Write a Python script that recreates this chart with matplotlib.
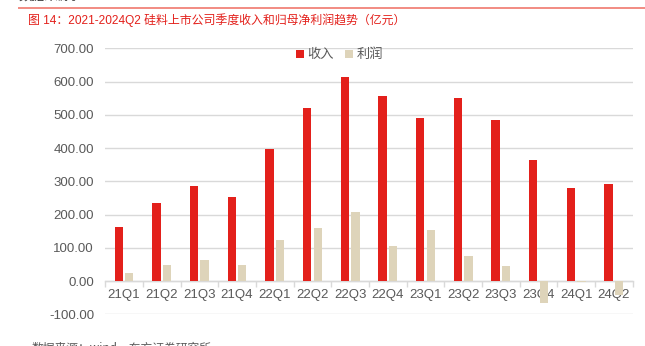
import matplotlib
matplotlib.use("Agg")
import matplotlib.pyplot as plt
import numpy as np
from matplotlib.ticker import FixedLocator, FuncFormatter

plt.rcParams['font.family'] = ['Liberation Sans', 'Noto Sans CJK SC', 'DejaVu Sans']

quarters = ["21Q1", "21Q2", "21Q3", "21Q4", "22Q1", "22Q2", "22Q3",
            "22Q4", "23Q1", "23Q2", "23Q3", "23Q4", "24Q1", "24Q2"]
revenue = [162, 234, 287, 252, 397, 520, 613, 557, 491, 550, 484, 363, 280, 292]
profit = [24, 49, 64, 49, 124, 160, 208, 107, 155, 75, 45, -66, -4, -42]
yticks = [-100, 0, 100, 200, 300, 400, 500, 600, 700]

RED = '#E3201B'
TAN = '#DED4BA'
GRAY = '#595959'
GRID = '#D9D9D9'

fig = plt.figure(figsize=(6.45, 3.46), dpi=100)
ax = fig.add_axes([0.163, 0.0916, 0.818, 0.7684])

x = np.arange(len(quarters))
w = 0.22
ax.bar(x - 0.14, revenue, width=w, color=RED, label='收入', zorder=2)
ax.bar(x + 0.14, profit, width=w, color=TAN, label='利润', zorder=2)

ax.set_xlim(-0.5, len(quarters) - 0.5)
ax.set_ylim(-100, 700)
ax.set_yticks(yticks)
ax.yaxis.set_major_formatter(FuncFormatter(lambda v, p: f"{v:.2f}"))
ax.grid(axis='y', color=GRID, linewidth=1.0, zorder=0)
ax.set_axisbelow(True)

for s in ['left', 'right', 'top']:
    ax.spines[s].set_visible(False)
ax.spines['bottom'].set_position(('data', 0))
ax.spines['bottom'].set_color(GRID)
ax.spines['bottom'].set_linewidth(1.0)
ax.spines['bottom'].set_zorder(1)

ax.set_xticks(x)
ax.set_xticklabels(quarters)
ax.xaxis.set_minor_locator(FixedLocator(np.arange(-0.5, len(quarters), 1.0)))
ax.tick_params(axis='x', which='major', length=0, pad=6, labelsize=9.5, labelcolor=GRAY)
ax.tick_params(axis='x', which='minor', length=4, color=GRID, width=1.0)
ax.tick_params(axis='y', length=0, pad=8, labelsize=9.5, labelcolor=GRAY)

leg = ax.legend(loc='center', bbox_to_anchor=(0.444, 0.975), ncol=2, frameon=False,
                handlelength=0.6, handleheight=0.6, handletextpad=0.25,
                columnspacing=0.9, fontsize=9.5, labelcolor=GRAY, borderaxespad=0)

# Header line and title
fig.add_artist(plt.Line2D([19 / 645, 1.0], [1 - 8 / 346, 1 - 8 / 346],
                          color='#F28B82', linewidth=1.4))
fig.text(28 / 645, 1 - 20 / 346, "图 14：2021-2024Q2 硅料上市公司季度收入和归母净利润趋势（亿元）",
         color=RED, fontsize=8.6, va='center', ha='left', fontweight='medium',
         family=['Liberation Sans', 'Noto Sans CJK SC', 'DejaVu Sans'])
fig.text(18 / 645, 1 - (-4) / 346, "数据来源。", color='#333333', fontsize=9.5,
         va='center', ha='left', family=['Noto Sans CJK SC', 'DejaVu Sans'])
fig.text(32 / 645, 1 - 348 / 346, "数据来源：wind，东方证券研究所", color=GRAY, fontsize=8.5,
         va='center', ha='left', family=['Noto Sans CJK SC', 'DejaVu Sans'])

fig.savefig("out.png", dpi=100)
